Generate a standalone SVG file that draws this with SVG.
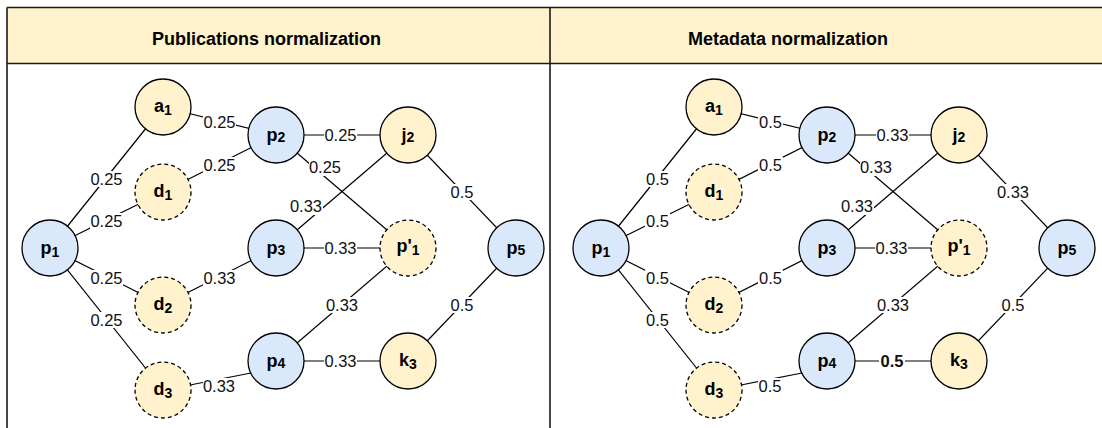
<svg xmlns="http://www.w3.org/2000/svg" width="1102" height="428" viewBox="0 0 1102 428">
<style>
.frame{fill:none;stroke:#1a1a1a;stroke-width:1.6}
.hdr{fill:#fff2cc}
.htxt{font-family:"Liberation Sans",Arial,sans-serif;font-weight:bold;font-size:18px;fill:#000;text-anchor:middle}
.edge{stroke:#000;stroke-width:1.2;fill:none}
.lbg{fill:#fff}
.ltxt{font-family:"Liberation Sans",Arial,sans-serif;font-size:16.5px;fill:#111;text-anchor:middle}
.bold{font-weight:bold}
.blue{fill:#dae8fc;stroke:#000;stroke-width:1.3}
.yel{fill:#fff2cc;stroke:#000;stroke-width:1.3}
.dash{stroke-dasharray:4 3}
.ntxt{font-family:"Liberation Sans",Arial,sans-serif;font-weight:bold;font-size:18px;fill:#000;text-anchor:middle}
.sub{font-size:14px}
</style>
<rect x="0" y="0" width="1102" height="428" fill="#fff"/>
<g id="table">
<rect class="hdr" x="7" y="7.5" width="1100" height="56"/>
<line class="frame" x1="7" y1="7.5" x2="1102" y2="7.5"/>
<line class="frame" x1="7" y1="63.5" x2="1102" y2="63.5"/>
<line class="frame" x1="7" y1="7.5" x2="7" y2="428"/>
<line class="frame" x1="550" y1="7.5" x2="550" y2="428"/>
<text class="htxt" x="266.5" y="45">Publications normalization</text>
<text class="htxt" x="788" y="45">Metadata normalization</text>
</g>

<!-- LEFT PANEL -->
<g id="left-connectors">
<line class="edge" x1="50" y1="248" x2="163" y2="107"/>
<line class="edge" x1="50" y1="248" x2="163" y2="192"/>
<line class="edge" x1="50" y1="248" x2="163" y2="305"/>
<line class="edge" x1="50" y1="248" x2="163" y2="390"/>
<line class="edge" x1="163" y1="107" x2="276" y2="135"/>
<line class="edge" x1="163" y1="192" x2="276" y2="135"/>
<line class="edge" x1="163" y1="305" x2="276" y2="248"/>
<line class="edge" x1="190" y1="385" x2="251" y2="373"/>
<line class="edge" x1="276" y1="135" x2="408" y2="135"/>
<line class="edge" x1="276" y1="135" x2="408" y2="248"/>
<line class="edge" x1="408" y1="135" x2="276" y2="248"/>
<line class="edge" x1="276" y1="248" x2="408" y2="248"/>
<line class="edge" x1="408" y1="248" x2="276" y2="361"/>
<line class="edge" x1="276" y1="361" x2="408" y2="361"/>
<line class="edge" x1="408" y1="135" x2="516" y2="248"/>
<line class="edge" x1="408" y1="361" x2="516" y2="248"/>
<g>
<rect class="lbg" x="90" y="171" width="33" height="16"/><text class="ltxt" x="106.5" y="185">0.25</text>
<rect class="lbg" x="90" y="213" width="33" height="16"/><text class="ltxt" x="106.5" y="227">0.25</text>
<rect class="lbg" x="90" y="270" width="33" height="16"/><text class="ltxt" x="106.5" y="284">0.25</text>
<rect class="lbg" x="90" y="312" width="33" height="16"/><text class="ltxt" x="106.5" y="326">0.25</text>
<rect class="lbg" x="203" y="114" width="33" height="16"/><text class="ltxt" x="219.5" y="128">0.25</text>
<rect class="lbg" x="203" y="157" width="33" height="16"/><text class="ltxt" x="219.5" y="171">0.25</text>
<rect class="lbg" x="203" y="270" width="33" height="16"/><text class="ltxt" x="219.5" y="284">0.33</text>
<rect class="lbg" x="203" y="378" width="33" height="16"/><text class="ltxt" x="219" y="392">0.33</text>
<rect class="lbg" x="324" y="127" width="33" height="16"/><text class="ltxt" x="340.5" y="141">0.25</text>
<rect class="lbg" x="309" y="159" width="33" height="17"/><text class="ltxt" x="325" y="173">0.25</text>
<rect class="lbg" x="290" y="198" width="33" height="17"/><text class="ltxt" x="306" y="212">0.33</text>
<rect class="lbg" x="324" y="240" width="33" height="16"/><text class="ltxt" x="340.5" y="254">0.33</text>
<rect class="lbg" x="326" y="297" width="33" height="16"/><text class="ltxt" x="342" y="311">0.33</text>
<rect class="lbg" x="324" y="353" width="33" height="16"/><text class="ltxt" x="340.5" y="367">0.33</text>
<rect class="lbg" x="450" y="184" width="25" height="16"/><text class="ltxt" x="462" y="198">0.5</text>
<rect class="lbg" x="450" y="297" width="25" height="16"/><text class="ltxt" x="462" y="311">0.5</text>
</g>
</g>
<g id="L-p1"><circle class="blue" cx="50" cy="248" r="28"/><text class="ntxt" x="50" y="254">p<tspan class="sub" dy="3">1</tspan></text></g>
<g id="L-a1"><circle class="yel" cx="163" cy="107" r="28"/><text class="ntxt" x="163" y="112">a<tspan class="sub" dy="3">1</tspan></text></g>
<g id="L-d1"><circle class="yel dash" cx="163" cy="192" r="28"/><text class="ntxt" x="163" y="197">d<tspan class="sub" dy="3">1</tspan></text></g>
<g id="L-d2"><circle class="yel dash" cx="163" cy="305" r="28"/><text class="ntxt" x="163" y="310">d<tspan class="sub" dy="3">2</tspan></text></g>
<g id="L-d3"><circle class="yel dash" cx="163" cy="390" r="28"/><text class="ntxt" x="163" y="395">d<tspan class="sub" dy="3">3</tspan></text></g>
<g id="L-p2"><circle class="blue" cx="276" cy="135" r="28"/><text class="ntxt" x="276" y="141">p<tspan class="sub" dy="1">2</tspan></text></g>
<g id="L-p3"><circle class="blue" cx="276" cy="248" r="28"/><text class="ntxt" x="276" y="254">p<tspan class="sub" dy="1">3</tspan></text></g>
<g id="L-p4"><circle class="blue" cx="276" cy="361" r="28"/><text class="ntxt" x="276" y="367">p<tspan class="sub" dy="1">4</tspan></text></g>
<g id="L-j2"><circle class="yel" cx="408" cy="135" r="28"/><text class="ntxt" x="408" y="141">j<tspan class="sub" dy="1">2</tspan></text></g>
<g id="L-p1prime"><circle class="yel dash" cx="408" cy="248" r="28"/><text class="ntxt" x="408" y="252">p'<tspan class="sub" dy="3">1</tspan></text></g>
<g id="L-k3"><circle class="yel" cx="408" cy="361" r="28"/><text class="ntxt" x="408" y="366">k<tspan class="sub" dy="3">3</tspan></text></g>
<g id="L-p5"><circle class="blue" cx="516" cy="248" r="28"/><text class="ntxt" x="516" y="254">p<tspan class="sub" dy="1">5</tspan></text></g>

<!-- RIGHT PANEL -->
<g transform="translate(551,0)">
<g id="right-connectors">
<line class="edge" x1="50" y1="248" x2="163" y2="107"/>
<line class="edge" x1="50" y1="248" x2="163" y2="192"/>
<line class="edge" x1="50" y1="248" x2="163" y2="305"/>
<line class="edge" x1="50" y1="248" x2="163" y2="390"/>
<line class="edge" x1="163" y1="107" x2="276" y2="135"/>
<line class="edge" x1="163" y1="192" x2="276" y2="135"/>
<line class="edge" x1="163" y1="305" x2="276" y2="248"/>
<line class="edge" x1="190" y1="385" x2="251" y2="373"/>
<line class="edge" x1="276" y1="135" x2="408" y2="135"/>
<line class="edge" x1="276" y1="135" x2="408" y2="248"/>
<line class="edge" x1="408" y1="135" x2="276" y2="248"/>
<line class="edge" x1="276" y1="248" x2="408" y2="248"/>
<line class="edge" x1="408" y1="248" x2="276" y2="361"/>
<line class="edge" x1="276" y1="361" x2="408" y2="361"/>
<line class="edge" x1="408" y1="135" x2="516" y2="248"/>
<line class="edge" x1="408" y1="361" x2="516" y2="248"/>
<g>
<rect class="lbg" x="94" y="171" width="25" height="16"/><text class="ltxt" x="106.5" y="185">0.5</text>
<rect class="lbg" x="94" y="213" width="25" height="16"/><text class="ltxt" x="106.5" y="227">0.5</text>
<rect class="lbg" x="94" y="270" width="25" height="16"/><text class="ltxt" x="106.5" y="284">0.5</text>
<rect class="lbg" x="94" y="312" width="25" height="16"/><text class="ltxt" x="106.5" y="326">0.5</text>
<rect class="lbg" x="207" y="114" width="25" height="16"/><text class="ltxt" x="219.5" y="128">0.5</text>
<rect class="lbg" x="207" y="157" width="25" height="16"/><text class="ltxt" x="219.5" y="171">0.5</text>
<rect class="lbg" x="207" y="270" width="25" height="16"/><text class="ltxt" x="219.5" y="284">0.5</text>
<rect class="lbg" x="207" y="378" width="25" height="16"/><text class="ltxt" x="219" y="392">0.5</text>
<rect class="lbg" x="325" y="127" width="33" height="16"/><text class="ltxt" x="341.5" y="141">0.33</text>
<rect class="lbg" x="309" y="159" width="33" height="17"/><text class="ltxt" x="325" y="173">0.33</text>
<rect class="lbg" x="290" y="198" width="33" height="17"/><text class="ltxt" x="306" y="212">0.33</text>
<rect class="lbg" x="324" y="240" width="33" height="16"/><text class="ltxt" x="340.5" y="254">0.33</text>
<rect class="lbg" x="326" y="297" width="33" height="16"/><text class="ltxt" x="342" y="311">0.33</text>
<rect class="lbg" x="328" y="353" width="26" height="16"/><text class="ltxt bold" x="341" y="367">0.5</text>
<rect class="lbg" x="445" y="184" width="33" height="16"/><text class="ltxt" x="462" y="198">0.33</text>
<rect class="lbg" x="450" y="297" width="25" height="16"/><text class="ltxt" x="462" y="311">0.5</text>
</g>
</g>
<g id="R-p1"><circle class="blue" cx="50" cy="248" r="28"/><text class="ntxt" x="50" y="254">p<tspan class="sub" dy="3">1</tspan></text></g>
<g id="R-a1"><circle class="yel" cx="163" cy="107" r="28"/><text class="ntxt" x="163" y="112">a<tspan class="sub" dy="3">1</tspan></text></g>
<g id="R-d1"><circle class="yel dash" cx="163" cy="192" r="28"/><text class="ntxt" x="163" y="197">d<tspan class="sub" dy="3">1</tspan></text></g>
<g id="R-d2"><circle class="yel dash" cx="163" cy="305" r="28"/><text class="ntxt" x="163" y="310">d<tspan class="sub" dy="3">2</tspan></text></g>
<g id="R-d3"><circle class="yel dash" cx="163" cy="390" r="28"/><text class="ntxt" x="163" y="395">d<tspan class="sub" dy="3">3</tspan></text></g>
<g id="R-p2"><circle class="blue" cx="276" cy="135" r="28"/><text class="ntxt" x="276" y="141">p<tspan class="sub" dy="1">2</tspan></text></g>
<g id="R-p3"><circle class="blue" cx="276" cy="248" r="28"/><text class="ntxt" x="276" y="254">p<tspan class="sub" dy="1">3</tspan></text></g>
<g id="R-p4"><circle class="blue" cx="276" cy="361" r="28"/><text class="ntxt" x="276" y="367">p<tspan class="sub" dy="1">4</tspan></text></g>
<g id="R-j2"><circle class="yel" cx="408" cy="135" r="28"/><text class="ntxt" x="408" y="141">j<tspan class="sub" dy="1">2</tspan></text></g>
<g id="R-p1prime"><circle class="yel dash" cx="408" cy="248" r="28"/><text class="ntxt" x="408" y="252">p'<tspan class="sub" dy="3">1</tspan></text></g>
<g id="R-k3"><circle class="yel" cx="408" cy="361" r="28"/><text class="ntxt" x="408" y="366">k<tspan class="sub" dy="3">3</tspan></text></g>
<g id="R-p5"><circle class="blue" cx="516" cy="248" r="28"/><text class="ntxt" x="516" y="254">p<tspan class="sub" dy="1">5</tspan></text></g>
</g>
</svg>
